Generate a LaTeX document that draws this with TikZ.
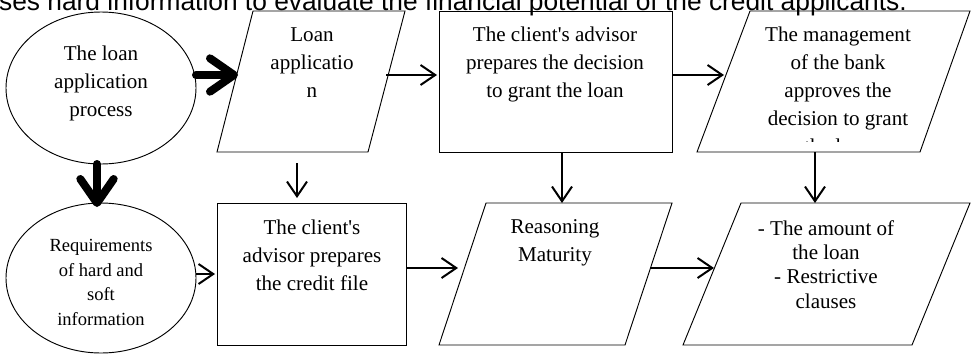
\documentclass[tikz,border=0pt]{standalone}
\usepackage{fontspec}
\setmainfont{Liberation Serif}[Ligatures=TeXOff]
\newfontfamily\topfont{Liberation Sans}
\usetikzlibrary{arrows.meta,shapes.geometric}
\begin{document}
\begin{tikzpicture}[x=0.75pt,y=-0.75pt,
  shapeline/.style={draw=black, line width=0.7pt},
  txt/.style={align=center, inner sep=0pt, font=\fontsize{15.8}{21}\selectfont,
    execute at begin node=\strut, execute at end node=\strut},
  smalltxt/.style={txt, font=\fontsize{13.9}{18.4}\selectfont},
  tighttxt/.style={txt, font=\fontsize{15.8}{18.3}\selectfont},
  thinarrow/.style={line width=1.5pt, -{Straight Barb[length=11pt,width=15pt]}},
  thickarrow/.style={line width=6pt, line cap=round, -{Straight Barb[round,length=18pt,width=25pt]}}]
\useasboundingbox (0,0) rectangle (973,354);
\clip (0,0) rectangle (973,354);
\fill[white] (0,0) rectangle (973,354);

% title (cut off at the top, as in the reference)
\node[anchor=base east, inner sep=0pt, font=\topfont\fontsize{19.75}{24}\selectfont] (title) at (907,10)
  {ses hard information to evaluate the financial potential of the credit applicants.};

% ellipses
\node[ellipse, shapeline, minimum width=142.5pt, minimum height=114pt, inner sep=0pt] (e1) at (101,88) {};
\node[txt] (e1t) at (101,85) {The loan\\application\\process};
\node[ellipse, shapeline, minimum width=142.5pt, minimum height=112.5pt, inner sep=0pt] (e2) at (101,278) {};
\node[smalltxt] (e2t) at (101,286) {Requirements\\of hard and\\soft\\information};

% rectangles
\node[rectangle, shapeline, minimum width=174.75pt, minimum height=105.75pt, inner sep=0pt] (b2) at (555.5,81.5) {};
\node[txt] (b2t) at (555,66) {The client's advisor\\prepares the decision\\to grant the loan};
\node[rectangle, shapeline, minimum width=141.75pt, minimum height=106.5pt, inner sep=0pt] (b4) at (311.5,274) {};
\node[txt] (b4t) at (312,259) {The client's\\advisor prepares\\the credit file};

% parallelograms
\draw[shapeline] (253,11) -- (405,11) -- (368,152) -- (217,152) -- cycle;
\node[txt] (p1t) at (312,66.5) {Loan\\applicatio\\n};
\draw[shapeline] (750,11) -- (970,11) -- (920,152) -- (697,152) -- cycle;
\begin{scope}
  \clip (680,11) rectangle (973,141);
  \node[txt] (p3t) at (838,94) {The management\\of the bank\\approves the\\decision to grant\\the loan};
\end{scope}
\draw[shapeline] (486,203) -- (672,203) -- (625,345) -- (439,345) -- cycle;
\node[txt] (p5t) at (555,245) {Reasoning\\Maturity};
\draw[shapeline] (741,203) -- (970,203) -- (912,345) -- (683,345) -- cycle;
\node[tighttxt] (p6t) at (826,268) {- The amount of\\the loan\\- Restrictive\\clauses};

% connector end points
\coordinate (a1s) at (196,75);  \coordinate (a1e) at (238,75);
\coordinate (a2s) at (97,164);  \coordinate (a2e) at (97,207);
\coordinate (a3s) at (386,75);  \coordinate (a3e) at (437,75);
\coordinate (a4s) at (672,75);  \coordinate (a4e) at (724,75);
\coordinate (a5s) at (297,163); \coordinate (a5e) at (297,198);
\coordinate (a6s) at (562,152); \coordinate (a6e) at (562,203);
\coordinate (a7s) at (815,152); \coordinate (a7e) at (815,203);
\coordinate (a8s) at (196,274); \coordinate (a8e) at (215,274);
\coordinate (a9s) at (406,268); \coordinate (a9e) at (458,268);
\coordinate (a10s) at (650,268); \coordinate (a10e) at (714,268);

\draw[thickarrow] (a1s) -- (a1e);
\draw[thickarrow] (a2s) -- (a2e);
\draw[thinarrow] (a3s) -- (a3e);
\draw[thinarrow] (a4s) -- (a4e);
\draw[thinarrow] (a5s) -- (a5e);
\draw[thinarrow] (a6s) -- (a6e);
\draw[thinarrow] (a7s) -- (a7e);
\draw[thinarrow] (a8s) -- (a8e);
\draw[thinarrow] (a9s) -- (a9e);
\draw[thinarrow] (a10s) -- (a10e);
\end{tikzpicture}
\end{document}
